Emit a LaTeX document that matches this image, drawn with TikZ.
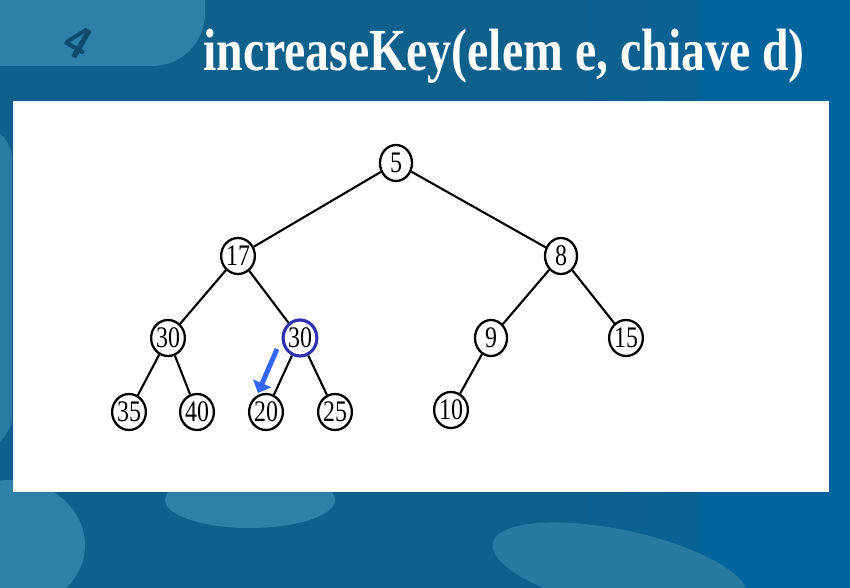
\documentclass[tikz,border=0pt]{standalone}
\usepackage{fontspec}
\setmainfont{Liberation Serif}
\newfontfamily\cifre[FakeStretch=0.8]{Liberation Serif}
\newfontfamily\titolofont[FakeStretch=0.8]{Liberation Serif}
\usetikzlibrary{shapes.geometric,arrows.meta}

\definecolor{sfondo}{RGB}{16,96,140}
\definecolor{sfondodx}{RGB}{0,100,156}
\definecolor{tasto}{RGB}{46,128,168}
\definecolor{bordoblu}{RGB}{48,48,176}
\definecolor{freccia}{RGB}{51,102,255}

\tikzset{
  heapnode/.style={draw, ellipse, line width=1.3pt, fill=white, inner sep=0pt,
    minimum width=0.64cm, minimum height=0.72cm, font=\cifre\fontsize{17}{17}\selectfont},
  toccato/.style={draw=bordoblu, line width=1.8pt},
  arco/.style={line width=1.2pt},
}

\begin{document}
\begin{tikzpicture}[x=0.02cm, y=-0.02cm]
\useasboundingbox (0,0) rectangle (850,588);

% Sfondo (tastiera)
\begin{scope}
\clip (0,0) rectangle (850,588);
\fill[sfondo] (0,0) rectangle (850,588);
\shade[left color=sfondo, right color=sfondodx] (560,0) rectangle (850,588);
\fill[sfondodx] (700,0) rectangle (850,588);
\fill[tasto, rounded corners=30] (-60,-60) rectangle (205,66);
\fill[tasto!85!sfondo, rounded corners=20] (-60,125) rectangle (12,450);
\fill[tasto] (10,545) ellipse (75 and 65);
\fill[tasto] (250,500) ellipse (85 and 28);
\fill[tasto!80!sfondo, rotate around={-12:(620,570)}] (620,570) ellipse (130 and 40);
\node[text=sfondo!80!black, font=\fontsize{26}{26}\selectfont\sffamily\bfseries, rotate=-30] at (78,42) {4};
\end{scope}

% Titolo
\node[text=white, font=\titolofont\fontsize{34}{34}\selectfont\bfseries] (titolo) at (504,56) {increaseKey(elem e, chiave d)};

% Riquadro bianco
\fill[white] (13,101) rectangle (829,492);

% Nodi dello heap
\node[heapnode] (n5) at (396,163) {5};
\node[heapnode] (n17) at (238,256) {17};
\node[heapnode] (n8) at (561,256) {8};
\node[heapnode] (n30a) at (168,338) {30};
\node[heapnode, toccato] (n30b) at (300,338) {30};
\node[heapnode] (n9) at (491,338) {9};
\node[heapnode] (n15) at (626,338) {15};
\node[heapnode] (n35) at (129,412) {35};
\node[heapnode] (n40) at (197,412) {40};
\node[heapnode] (n20) at (266,412) {20};
\node[heapnode] (n25) at (335,412) {25};
\node[heapnode] (n10) at (451,410) {10};

% Archi
\foreach \p/\f in {n5/n17, n5/n8, n17/n30a, n17/n30b, n8/n9, n8/n15,
                   n30a/n35, n30a/n40, n30b/n20, n30b/n25, n9/n10}
  \draw[arco] (\p) -- (\f);

% Freccia blu
\coordinate (fda) at (277,349);
\coordinate (fa) at (258,393);
\draw[freccia, line width=2.8pt, -{Triangle[width=11pt,length=6pt]}] (fda) -- (fa);

\end{tikzpicture}
\end{document}
